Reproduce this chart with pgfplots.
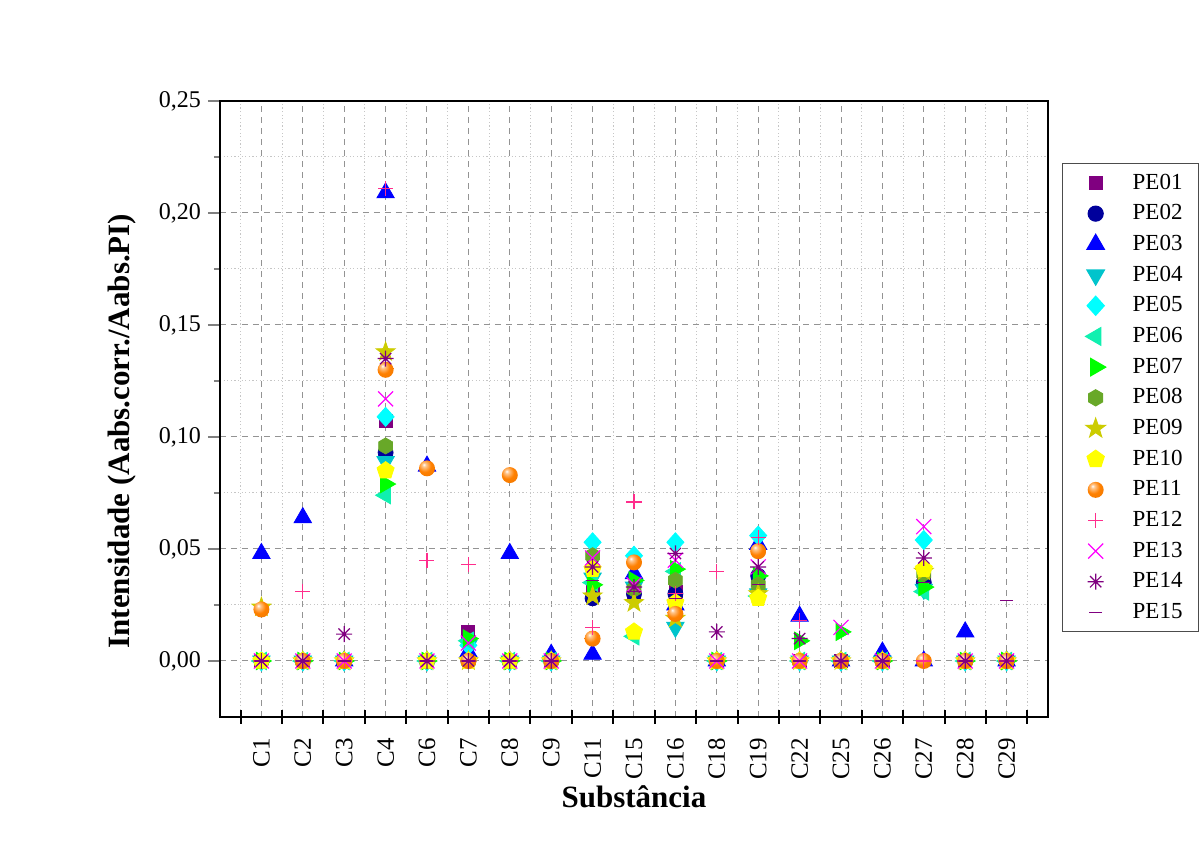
\documentclass[border=0pt]{standalone}
\usepackage{fontspec}
\setmainfont{Liberation Serif}
\usepackage{pgfplots}
\usepackage{pgfplotstable}
\pgfplotsset{compat=1.18}
\usetikzlibrary{plotmarks}

\definecolor{c01}{HTML}{800080}
\definecolor{c02}{HTML}{00009C}
\definecolor{c03}{HTML}{0000FF}
\definecolor{c04}{HTML}{00C4CC}
\definecolor{c05}{HTML}{00FFFF}
\definecolor{c06}{HTML}{10F0B0}
\definecolor{c07}{HTML}{00FF00}
\definecolor{c08}{HTML}{68A828}
\definecolor{c09}{HTML}{CCCC00}
\definecolor{c10}{HTML}{FFFF00}
\definecolor{c11}{HTML}{FF8000}
\definecolor{c12}{HTML}{FF2D8C}
\definecolor{c13}{HTML}{FF00FF}
\definecolor{c14}{HTML}{800080}
\definecolor{c15}{HTML}{800080}

\pgfdeclareplotmark{hexagon*}{%
  \pgfpathmoveto{\pgfpointpolar{90}{\pgfplotmarksize}}%
  \pgfpathlineto{\pgfpointpolar{150}{\pgfplotmarksize}}%
  \pgfpathlineto{\pgfpointpolar{210}{\pgfplotmarksize}}%
  \pgfpathlineto{\pgfpointpolar{270}{\pgfplotmarksize}}%
  \pgfpathlineto{\pgfpointpolar{330}{\pgfplotmarksize}}%
  \pgfpathlineto{\pgfpointpolar{30}{\pgfplotmarksize}}%
  \pgfpathclose\pgfusepathqfillstroke}
\pgfdeclareplotmark{fstar}{%
  \pgfpathmoveto{\pgfpointpolar{90}{\pgfplotmarksize}}%
  \pgfpathlineto{\pgfpointpolar{126}{0.4\pgfplotmarksize}}%
  \pgfpathlineto{\pgfpointpolar{162}{\pgfplotmarksize}}%
  \pgfpathlineto{\pgfpointpolar{198}{0.4\pgfplotmarksize}}%
  \pgfpathlineto{\pgfpointpolar{234}{\pgfplotmarksize}}%
  \pgfpathlineto{\pgfpointpolar{270}{0.4\pgfplotmarksize}}%
  \pgfpathlineto{\pgfpointpolar{306}{\pgfplotmarksize}}%
  \pgfpathlineto{\pgfpointpolar{342}{0.4\pgfplotmarksize}}%
  \pgfpathlineto{\pgfpointpolar{18}{\pgfplotmarksize}}%
  \pgfpathlineto{\pgfpointpolar{54}{0.4\pgfplotmarksize}}%
  \pgfpathclose\pgfusepathqfillstroke}
\pgfdeclareplotmark{astx}{%
  \pgfpathmoveto{\pgfqpoint{-\pgfplotmarksize}{0pt}}\pgfpathlineto{\pgfqpoint{\pgfplotmarksize}{0pt}}%
  \pgfpathmoveto{\pgfqpoint{0pt}{-\pgfplotmarksize}}\pgfpathlineto{\pgfqpoint{0pt}{\pgfplotmarksize}}%
  \pgfpathmoveto{\pgfpointpolar{45}{\pgfplotmarksize}}\pgfpathlineto{\pgfpointpolar{225}{\pgfplotmarksize}}%
  \pgfpathmoveto{\pgfpointpolar{135}{\pgfplotmarksize}}\pgfpathlineto{\pgfpointpolar{315}{\pgfplotmarksize}}%
  \pgfusepathqstroke}
\pgfdeclareradialshading{orball}{\pgfqpoint{-10bp}{12bp}}{%
  color(0bp)=(white); color(6bp)=(c11!45!white); color(20bp)=(c11); color(45bp)=(c11!92!black); color(70bp)=(c11!85!black)}
\pgfdeclareplotmark{oball}{%
  \pgfpathcircle{\pgfpointorigin}{\pgfplotmarksize}%
  \pgfshadepath{orball}{0}\pgfusepath{discard}}

\pgfplotstableread{
x  PE01  PE02  PE03  PE04  PE05  PE06  PE07  PE08  PE09  PE10  PE11  PE12  PE13  PE14  PE15
0  0     0     0.048 0     0     0     0     0     0.024 0     0.023 0     0     0     0
1  0     0     0.064 0     0     0     0     0     0     0     0     0.031 0     0     0
2  0     0     0     0     0     0     0     0     0     0     0     0     0     0.012 0
3  0.107 0.093 0.209 0.089 0.109 0.074 0.079 0.096 0.138 0.085 0.130 0.211 0.117 0.135 0.135
4  0     0     0.087 0     0     0     0     0     0     0     0.086 0.045 0     0     0
5  0.013 0     0.004 0.007 0.007 0.009 0.010 0     0     0     0     0.043 0.008 0     0
6  0     0     0.048 0     0     0     0     0     0     0     0.083 0     0     0     0
7  0     0     0.003 0     0     0     0     0     0     0     0     0     0     0     0
8  0.031 0.028 0.003 0.037 0.053 0.035 0.034 0.047 0.029 0.041 0.010 0.015 0.046 0.042 0.036
9  0.030 0.030 0.039 0.033 0.047 0.011 0.036 0.032 0.026 0.013 0.044 0.071 0.034 0.033 0.031
10 0.031 0.030 0.025 0.015 0.053 0.040 0.041 0.036 0.019 0.026 0.021 0.030 0.045 0.048 0.028
11 0     0     0     0     0     0     0     0     0     0     0     0.040 0     0.013 0
12 0.036 0.038 0.052 0.030 0.056 0.029 0.038 0.034 0.030 0.028 0.049 0.055 0.042 0.042 0.034
13 0     0     0.020 0     0     0     0.009 0     0     0     0     0.018 0     0.010 0
14 0     0     0     0     0     0     0.013 0     0     0     0     0     0.015 0     0
15 0     0     0.004 0     0     0     0     0     0     0     0     0     0     0     0
16 0.036 0.035 0     0.032 0.054 0.031 0.033 0.039 0.040 0.041 0     0     0.060 0.046 0.035
17 0     0     0.013 0     0     0     0     0     0     0     0     0     0     0     0
18 0     0     0     0     0     0     0     0     0     0     0     0     0     0     0.027
}\datatable

\begin{document}
\begin{tikzpicture}
\path[use as bounding box] (-110pt,-66pt) rectangle (490pt,358.5pt);
\begin{axis}[
  scale only axis, width=414pt, height=308pt,
  at={(0pt,0pt)}, anchor=south west,
  xmin=-1, xmax=19, ymin=-0.025, ymax=0.25,
  axis line style={line width=1pt},
  tick style={line width=1pt},
  tick pos=left,
  major tick length=6pt, minor tick length=3pt,
  ytick align=outside, xtick align=center,
  xtick={0,...,18},
  xticklabels={C1,C2,C3,C4,C6,C7,C8,C9,C11,C15,C16,C18,C19,C22,C25,C26,C27,C28,C29},
  minor xtick={-0.5,0.5,...,18.5},
  major x tick style={draw=none},
  minor x tick style={draw=none},
  extra x ticks={-0.5,0.5,...,18.5}, extra x tick labels={},
  extra x tick style={grid=none, major tick length=7pt, major x tick style={draw=black, line width=1pt}},
  ytick={0,0.05,...,0.25}, minor y tick num=1,
  grid=both,
  major grid style={gray!85, line width=0.5pt, dash pattern=on 3pt off 2.5pt},
  minor grid style={gray!45, line width=0.5pt, dash pattern=on 0.6pt off 1.2pt},
  tick label style={font=\fontsize{12}{14}\selectfont},
  xticklabel style={font=\fontsize{12.5}{14}\selectfont, rotate=90, anchor=east},
  /pgf/number format/assume math mode=true,
  yticklabel style={/pgf/number format/.cd, fixed, fixed zerofill, precision=2, use comma},
  xticklabel shift=4pt,
  xlabel={Substância},
  xlabel style={font=\fontsize{15.5}{18}\selectfont\bfseries, at={(axis description cs:0.5,-0.13)}, anchor=center},
  ylabel={Intensidade (Aabs.corr./Aabs.PI)},
  ylabel style={font=\fontsize{15.5}{18}\selectfont\bfseries, at={(axis description cs:-0.118,0.464)}, anchor=center},
  legend style={at={(1.017,0.899)}, anchor=north west, draw=black!70, line width=0.6pt, fill=white,
    font=\fontsize{11.5}{13}\selectfont, inner xsep=6pt, inner ysep=3pt, row sep=2.2pt, column sep=6pt},
  legend cell align=left,
  legend image code/.code={\path[draw=none,fill=none] (-10.5pt,-5pt) rectangle (10.5pt,5pt); \draw[#1] plot coordinates {(0pt,0pt)};},
]
\addplot[only marks, mark=square*, mark size=3.25pt, color=c01] table[x=x,y=PE01]{\datatable};
\addlegendentry{PE01}
\addplot[only marks, mark=*, mark size=3.75pt, color=c02] table[x=x,y=PE02]{\datatable};
\addlegendentry{PE02}
\addplot[only marks, mark=triangle*, mark size=5pt, color=c03] table[x=x,y=PE03]{\datatable};
\addlegendentry{PE03}
\addplot[only marks, mark=triangle*, mark size=5pt, color=c04, mark options={rotate=180}] table[x=x,y=PE04]{\datatable};
\addlegendentry{PE04}
\addplot[only marks, mark=diamond*, mark size=4.75pt, color=c05, mark options={xscale=1.2}] table[x=x,y=PE05]{\datatable};
\addlegendentry{PE05}
\addplot[only marks, mark=triangle*, mark size=5pt, color=c06, mark options={rotate=90}] table[x=x,y=PE06]{\datatable};
\addlegendentry{PE06}
\addplot[only marks, mark=triangle*, mark size=5pt, color=c07, mark options={rotate=-90}] table[x=x,y=PE07]{\datatable};
\addlegendentry{PE07}
\addplot[only marks, mark=hexagon*, mark size=4pt, color=c08] table[x=x,y=PE08]{\datatable};
\addlegendentry{PE08}
\addplot[only marks, mark=fstar, mark size=5pt, color=c09] table[x=x,y=PE09]{\datatable};
\addlegendentry{PE09}
\addplot[only marks, mark=pentagon*, mark size=4.5pt, color=c10] table[x=x,y=PE10]{\datatable};
\addlegendentry{PE10}
\addplot[only marks, mark=oball, mark size=4pt, color=c11] table[x=x,y=PE11]{\datatable};
\addlegendentry{PE11}
\addplot[only marks, mark=+, mark size=3.75pt, color=c12, mark options={line width=0.6pt}] table[x=x,y=PE12]{\datatable};
\addlegendentry{PE12}
\addplot[only marks, mark=x, mark size=5.3pt, color=c13, mark options={line width=0.6pt}] table[x=x,y=PE13]{\datatable};
\addlegendentry{PE13}
\addplot[only marks, mark=astx, mark size=4pt, color=c14, mark options={line width=0.6pt}] table[x=x,y=PE14]{\datatable};
\addlegendentry{PE14}
\addplot[only marks, mark=-, mark size=3.25pt, color=c15, mark options={line width=0.6pt}] table[x=x,y=PE15]{\datatable};
\addlegendentry{PE15}
\end{axis}
\end{tikzpicture}
\end{document}
